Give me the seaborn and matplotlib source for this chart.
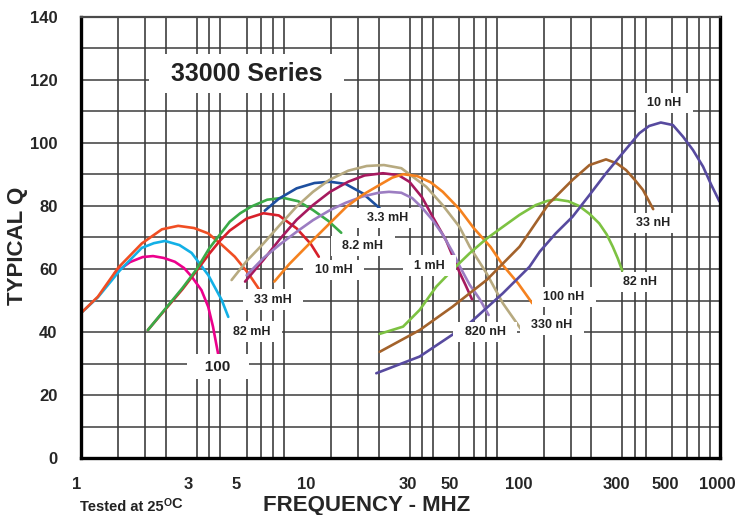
import pandas as pd
import seaborn as sns
import matplotlib.pyplot as plt
from matplotlib.transforms import ScaledTranslation

# typical Q vs frequency (MHz)
f_10nH = [24.4, 39, 67, 96, 128, 143, 170, 204, 245, 293, 350, 420, 467, 530, 604, 674, 750, 837, 915, 1000]
q_10nH = [26.9, 32.2, 42.8, 52.3, 60.7, 65.5, 71.3, 76.6, 83.5, 90.4, 96.7, 103.1, 105.4, 106.5, 105.7, 102, 97.8, 92.5, 86.7, 81.4]

f_33nH = [25.3, 39, 55.6, 80.5, 115, 158, 204, 245, 293, 330, 364, 400, 437, 488]
q_33nH = [33.7, 40.6, 48, 56.5, 67.1, 80.8, 88.3, 93, 94.8, 93.5, 91.4, 88.3, 85.1, 79]

f_82nH = [25.3, 32.6, 39, 46.7, 55.6, 67, 80, 96, 115, 137, 155, 171, 195, 219, 245, 272, 295, 315, 333, 349]
q_82nH = [39.4, 41.7, 47, 54.4, 59.7, 65, 69.5, 73.4, 77.2, 80.3, 81.6, 82.1, 81.5, 80, 77.5, 74.5, 71, 67.1, 63.3, 59.5]

f_100nH = [8.1, 9.5, 12.3, 15, 17.7, 21, 25.3, 29, 32.6, 38, 44, 50.1, 60, 70, 84, 96, 113, 132]
q_100nH = [56, 61.5, 69.2, 75, 79.8, 83.5, 86.7, 89, 90.1, 89.5, 87.5, 84.5, 79, 73, 67, 61.2, 55.5, 49.1]

f_330nH = [5.1, 6.0, 7.2, 8.6, 10.3, 12.3, 14.7, 18, 22, 26.5, 32, 41.9, 50, 60, 67, 80.5, 96, 119]
q_330nH = [56.5, 62.5, 68.1, 74, 79.8, 84.5, 88.3, 91.2, 92.7, 93.0, 92.0, 86.1, 80.3, 73.4, 67.1, 58.6, 49.1, 40.1]

f_820nH = [6.0, 7.2, 8.6, 10.3, 12.3, 14.8, 17.5, 21, 25, 28, 32, 36, 40, 44.9, 50, 55.6, 60, 67, 74.6, 82.3]
q_820nH = [58, 63.5, 67.8, 71.8, 75.5, 78.7, 81, 83, 84.2, 84.5, 84.2, 82.5, 79.5, 75.5, 71, 65.5, 61, 55, 50.5, 45.4]

f_1mH = [5.9, 7.2, 8.6, 10.3, 12.3, 14.8, 18, 21.5, 26.2, 31, 34.9, 40, 44.9, 52, 60, 64, 68.7]
q_1mH = [56, 62.9, 69.5, 75.6, 80.3, 84.5, 87.7, 89.7, 90.4, 89.8, 87.7, 82.8, 76.6, 69, 59, 55, 50.4]

f_3m3H = [7.3, 8.5, 10.3, 12.5, 14.8, 17.5, 21.1, 25.3]
q_3m3H = [78.5, 82.3, 85.6, 87.3, 87.7, 87.0, 84.0, 79.3]

f_8m2H = [2.06, 2.5, 3.0, 3.5, 4.0, 4.5, 5.0, 5.6, 6.3, 7.5, 8.9, 10.5, 12.3, 14.5, 16.7]
q_8m2H = [40.6, 47.5, 54, 60, 66.5, 71, 75, 77.7, 79.8, 82, 82.6, 81.5, 78.7, 75.3, 71.5]

f_10mH = [2.06, 2.5, 3.0, 3.5, 4.0, 4.5, 5.0, 6.0, 7.2, 8.5, 10.3, 12.0, 13.1]
q_10mH = [40.6, 47.3, 53.6, 59.5, 64.8, 69, 72.2, 76.0, 77.7, 77.0, 72.9, 68, 63.9]

f_33mH = [1.0, 1.2, 1.5, 1.93, 2.4, 2.86, 3.4, 3.96, 4.6, 5.28, 6.1, 6.91]
q_33mH = [46, 51.2, 60.5, 68.1, 72.6, 73.7, 73.0, 71.3, 67.6, 63.9, 58.7, 53.3]

f_82mH = [1.0, 1.2, 1.52, 1.93, 2.2, 2.48, 2.9, 3.31, 3.96, 4.58, 4.92]
q_82mH = [46, 51.0, 59.5, 66.7, 68.2, 68.9, 67.6, 65.1, 58.1, 50.2, 44.8]

f_100 = [1.44, 1.7, 1.95, 2.18, 2.45, 2.76, 3.05, 3.31, 3.68, 3.96, 4.17, 4.41]
q_100 = [58.7, 62.2, 63.8, 64.1, 63.5, 62.3, 60.3, 57.6, 53.3, 48.0, 41.7, 33.0]

# drawing order: first one ends up at the bottom
curves = {
    '100': (f_100, q_100),
    '82 mH': (f_82mH, q_82mH),
    '33 mH': (f_33mH, q_33mH),
    '10 mH': (f_10mH, q_10mH),
    '8.2 mH': (f_8m2H, q_8m2H),
    '3.3 mH': (f_3m3H, q_3m3H),
    '1 mH': (f_1mH, q_1mH),
    '820 nH': (f_820nH, q_820nH),
    '330 nH': (f_330nH, q_330nH),
    '100 nH': (f_100nH, q_100nH),
    '82 nH': (f_82nH, q_82nH),
    '33 nH': (f_33nH, q_33nH),
    '10 nH': (f_10nH, q_10nH),
}

colors = {
    '10 nH': '#574a9f', '33 nH': '#a3622b', '82 nH': '#7dc242', '100 nH': '#f5821f',
    '330 nH': '#b7aa80', '820 nH': '#9c7dc2', '1 mH': '#a6195e', '3.3 mH': '#1d4f9f',
    '8.2 mH': '#3aaa47', '10 mH': '#d7202a', '33 mH': '#f04e23', '82 mH': '#13b0e6',
    '100': '#ec008c',
}

# where each curve's tag sits (MHz, Q)
tag_pos = {
    '10 nH': (552, 112.7), '33 nH': (490, 74.6), '82 nH': (421, 55.9), '100 nH': (185, 51.1),
    '330 nH': (163, 42.2), '820 nH': (79.3, 40), '1 mH': (43.5, 61), '3.3 mH': (27.5, 76.2),
    '8.2 mH': (21.1, 67.3), '10 mH': (15.4, 59.7), '33 mH': (7.97, 50.2), '82 mH': (6.32, 40.1),
    '100': (4.40, 29.0),
}

xticks = [1, 3, 5, 10, 30, 50, 100, 300, 500, 1000]
xtick_labels = ['1', '3', '5', '10', '30', '50', '100', '300', '500', '1000']
xtick_shift_px = [-4, 6, 6, 12, 12, 7, 12, 8, 10, -2]
xgrid = [m * d for d in (1, 10, 100) for m in (1.5, 2, 2.5, 3, 3.5, 4, 4.5, 5, 6, 7, 8, 9, 10)]
yticks = list(range(0, 141, 20))

rows = []
for name, (fs, qs) in curves.items():
    for f, q in zip(fs, qs):
        rows.append({'inductance': name, 'freq': f, 'q': q})
df = pd.DataFrame(rows)

sns.set_style('white')
plt.rcParams['font.family'] = ['Liberation Sans', 'DejaVu Sans']
plt.rcParams['font.weight'] = 'bold'

fig = plt.figure(figsize=(7.38, 5.15), dpi=100)
ax = fig.add_axes([81 / 738, 1 - 458 / 515, 638.5 / 738, 441 / 515])

sns.lineplot(data=df, x='freq', y='q', hue='inductance', hue_order=list(curves.keys()),
             palette=colors, estimator=None, linewidth=1.9, legend=False, ax=ax)

ax.set_xscale('log')
ax.set_xlim(1, 1000)
ax.set_ylim(0, 140)

ax.set_xticks(xticks)
ax.set_xticklabels(xtick_labels, fontsize=12, fontweight='bold')
ax.set_xticks(xgrid, minor=True)
ax.set_xticklabels([], minor=True)
ax.set_yticks(yticks)
ax.set_yticklabels([str(v) for v in yticks], fontsize=12, fontweight='bold')
ax.set_yticks(range(10, 140, 20), minor=True)
ax.tick_params(which='both', length=0)
ax.tick_params(axis='x', pad=14)
ax.tick_params(axis='y', pad=17)

ax.set_axisbelow(True)
ax.grid(which='minor', axis='x', color='#2e2e2e', linewidth=1.1)
ax.grid(which='both', axis='y', color='#3c3c3c', linewidth=1.1)

for side in ['left', 'bottom', 'right']:
    ax.spines[side].set_color('black')
    ax.spines[side].set_linewidth(2.4)
ax.spines['top'].set_color('#4a4a4a')
ax.spines['top'].set_linewidth(1.6)

# the datasheet's x labels sit a little right of their grid lines
for lab, dx in zip(ax.get_xticklabels(), xtick_shift_px):
    lab.set_transform(lab.get_transform() + ScaledTranslation(dx / 100, 0, fig.dpi_scale_trans))

ax.set_xlabel('FREQUENCY - MHZ', fontsize=16, fontweight='bold')
ax.xaxis.set_label_coords(0.447, -0.107)
ax.xaxis.label.set_va('center')
ax.set_ylabel('TYPICAL Q', fontsize=16, fontweight='bold')
ax.yaxis.set_label_coords(-0.1, 0.48)
ax.yaxis.label.set_va('center')

for name, (fx, qy) in tag_pos.items():
    size = 11 if name == '100' else 9
    pad_txt = '   ' if name == '100' else '  '
    ax.text(fx, qy, pad_txt + name + pad_txt, ha='center', va='center', fontsize=size,
            fontweight='bold', color='#222222', zorder=4,
            bbox=dict(boxstyle='square,pad=0.35', fc='white', ec='none'))

ax.text(6.0, 122, '  33000 Series  ', ha='center', va='center', fontsize=18,
        fontweight='bold', color='#222222', zorder=4,
        bbox=dict(boxstyle='square,pad=0.3', fc='white', ec='none'))

note = fig.text(80 / 738, 1 - 507 / 515, 'Tested at 25', fontsize=10.5, fontweight='bold',
                ha='left', va='center', color='#222222')
deg = ax.annotate('O', xy=(1, 0.55), xycoords=note, fontsize=7.5, fontweight='bold',
                  color='#222222', annotation_clip=False)
ax.annotate('C', xy=(1, 0), xycoords=deg, xytext=(0, -2.2), textcoords='offset points',
            fontsize=10.5, fontweight='bold', color='#222222', va='bottom',
            annotation_clip=False)

fig.savefig('out.png', dpi=100)
